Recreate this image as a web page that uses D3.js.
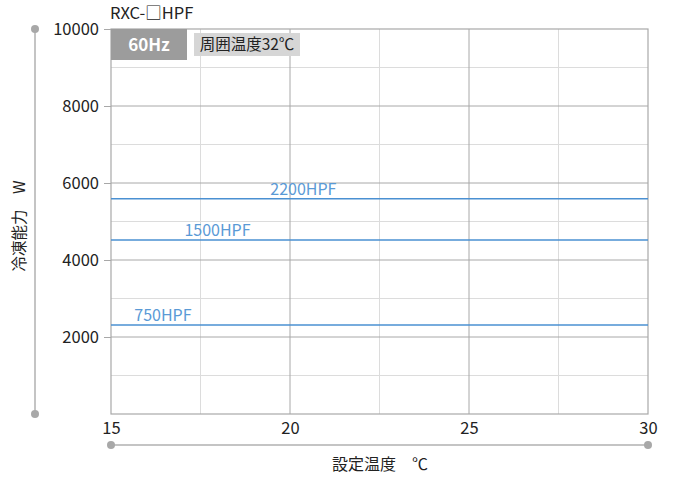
<!DOCTYPE html>
<html><head><meta charset="utf-8">
<script src="https://cdn.jsdelivr.net/npm/d3@7"></script>
<style>body{margin:0;background:#fff}svg{display:block;font-family:"Noto Sans CJK JP","Noto Sans",sans-serif}</style>
</head><body><svg id="c" width="678" height="477"></svg>
<script>
const seriesNames = ["2200HPF", "1500HPF", "750HPF"];
const seriesValues = [5590, 4520, 2310];
const labelTemps = [19.45, 17.05, 15.65];
const xTicks = [15, 20, 25, 30];
const xMinor = [17.5, 22.5, 27.5];
const yTicks = [2000, 4000, 6000, 8000, 10000];
const yMinor = [1000, 3000, 5000, 7000, 9000];

const svg = d3.select("#c");
const L = 111, R = 648, T = 29, B = 414;
const x = d3.scaleLinear().domain([15, 30]).range([L, R]);
const y = d3.scaleLinear().domain([0, 10000]).range([B, T]);

// minor grid
svg.append("g").selectAll("line").data(xMinor).join("line")
  .attr("x1", d => x(d)).attr("x2", d => x(d)).attr("y1", T).attr("y2", B)
  .attr("stroke", "#dcdcdc").attr("stroke-width", 1);
svg.append("g").selectAll("line").data(yMinor).join("line")
  .attr("x1", L).attr("x2", R).attr("y1", d => y(d)).attr("y2", d => y(d))
  .attr("stroke", "#dcdcdc").attr("stroke-width", 1);
// major grid
svg.append("g").selectAll("line").data(xTicks.slice(1, -1)).join("line")
  .attr("x1", d => x(d)).attr("x2", d => x(d)).attr("y1", T).attr("y2", B)
  .attr("stroke", "#a8a8a8").attr("stroke-width", 1);
svg.append("g").selectAll("line").data(yTicks.slice(0, -1)).join("line")
  .attr("x1", L).attr("x2", R).attr("y1", d => y(d)).attr("y2", d => y(d))
  .attr("stroke", "#a8a8a8").attr("stroke-width", 1);

// frame
svg.append("rect").attr("x", L).attr("y", T).attr("width", R - L).attr("height", B - T)
  .attr("fill", "none").attr("stroke", "#a8a8a8").attr("stroke-width", 1.2);

// y axis
const ya = svg.append("g").attr("transform", `translate(${L},0)`)
  .call(d3.axisLeft(y).tickValues(yTicks).tickSize(7).tickPadding(5).tickFormat(d3.format("d")));
ya.select(".domain").remove();
ya.selectAll(".tick line").attr("stroke", "#a8a8a8");
ya.selectAll(".tick text").attr("font-size", 16.5).attr("fill", "#222").attr("font-family", "Noto Sans CJK JP");

// x axis
const xa = svg.append("g").attr("transform", `translate(0,${B})`)
  .call(d3.axisBottom(x).tickValues(xTicks).tickSize(0).tickPadding(8).tickFormat(d3.format("d")));
xa.select(".domain").remove();
xa.selectAll(".tick text").attr("font-size", 16.5).attr("fill", "#222").attr("font-family", "Noto Sans CJK JP").attr("dy", "0.75em");

// series lines
svg.append("g").selectAll("line").data(seriesValues).join("line")
  .attr("x1", L).attr("x2", R).attr("y1", d => y(d)).attr("y2", d => y(d))
  .attr("stroke", "#4a90d2").attr("stroke-width", 1.6);
svg.append("g").selectAll("text").data(seriesNames).join("text")
  .attr("x", (d, i) => x(labelTemps[i])).attr("y", (d, i) => y(seriesValues[i]) - 4)
  .attr("font-size", 16).attr("fill", "#5a9ad6").text(d => d);

// decorative axis lines
svg.append("line").attr("x1", 35).attr("x2", 35).attr("y1", y(10000)).attr("y2", B)
  .attr("stroke", "#b0b0b0").attr("stroke-width", 1.5);
svg.append("g").selectAll("circle").data([y(10000), B]).join("circle")
  .attr("cx", 35).attr("cy", d => d).attr("r", 4).attr("fill", "#a8a8a8");
svg.append("line").attr("x1", L).attr("x2", R).attr("y1", 445).attr("y2", 445)
  .attr("stroke", "#b0b0b0").attr("stroke-width", 1.5);
svg.append("g").selectAll("circle").data([L, R]).join("circle")
  .attr("cx", d => d).attr("cy", 445).attr("r", 4).attr("fill", "#a8a8a8");

// axis titles
svg.append("text").attr("transform", "translate(25,226) rotate(-90)")
  .attr("text-anchor", "middle").attr("font-size", 15.5).attr("fill", "#222")
  .attr("xml:space", "preserve").text("冷凍能力　W");
svg.append("text").attr("x", 380).attr("y", 470).attr("text-anchor", "middle")
  .attr("font-size", 16).attr("fill", "#222").text("設定温度　℃");

// title and badges
svg.append("text").attr("x", 110).attr("y", 19).attr("font-size", 16.5).attr("fill", "#222").text("RXC-□HPF");
svg.append("rect").attr("x", L).attr("y", T).attr("width", 76).attr("height", 31).attr("fill", "#9c9c9c");
svg.append("text").attr("x", L + 38).attr("y", T + 22).attr("text-anchor", "middle")
  .attr("font-size", 17).attr("font-weight", "bold").attr("fill", "#fff").text("60Hz");
svg.append("rect").attr("x", 194).attr("y", 33).attr("width", 106).attr("height", 23).attr("fill", "#d6d6d6");
svg.append("text").attr("x", 247).attr("y", 50).attr("text-anchor", "middle")
  .attr("font-size", 15.5).attr("fill", "#222").text("周囲温度32℃");
</script></body></html>
